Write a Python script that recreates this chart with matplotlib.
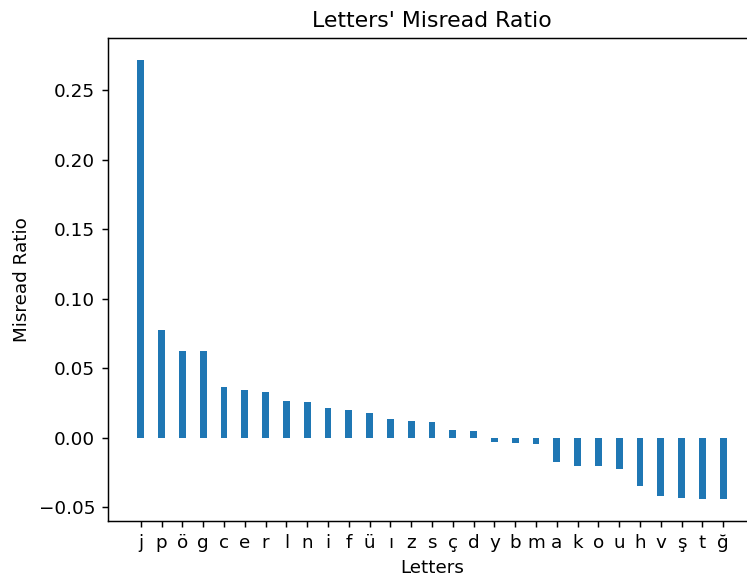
import matplotlib
matplotlib.use("Agg")
import matplotlib.pyplot as plt

letters = ["j", "p", "ö", "g", "c", "e", "r", "l", "n", "i", "f", "ü", "ı", "z", "s",
           "ç", "d", "y", "b", "m", "a", "k", "o", "u", "h", "v", "ş", "t", "ğ"]
ratios = [0.2715, 0.0778, 0.0628, 0.0621, 0.0368, 0.0342, 0.0330, 0.0265, 0.0256,
          0.0217, 0.0198, 0.0180, 0.0134, 0.0124, 0.0112,
          0.0055, 0.0048, -0.0027, -0.0040, -0.0047, -0.0177, -0.0205, -0.0205,
          -0.0224, -0.0346, -0.0420, -0.0430, -0.0439, -0.0440]

DPI = 132
W, H = 747, 576
fig = plt.figure(figsize=(W / DPI, H / DPI), dpi=DPI)
ax = fig.add_axes([108 / W, (H - 521) / H, (756 - 108) / W, (521 - 38.3) / H])
ax.bar(range(len(letters)), ratios, width=0.33, color="#1f77b4")
ax.set_xticks(range(len(letters)))
ax.set_xticklabels(letters)
ax.set_xlabel("Letters")
ax.set_ylabel("Misread Ratio")
ax.set_title("Letters' Misread Ratio")
fig.savefig("out.png", dpi=DPI)
